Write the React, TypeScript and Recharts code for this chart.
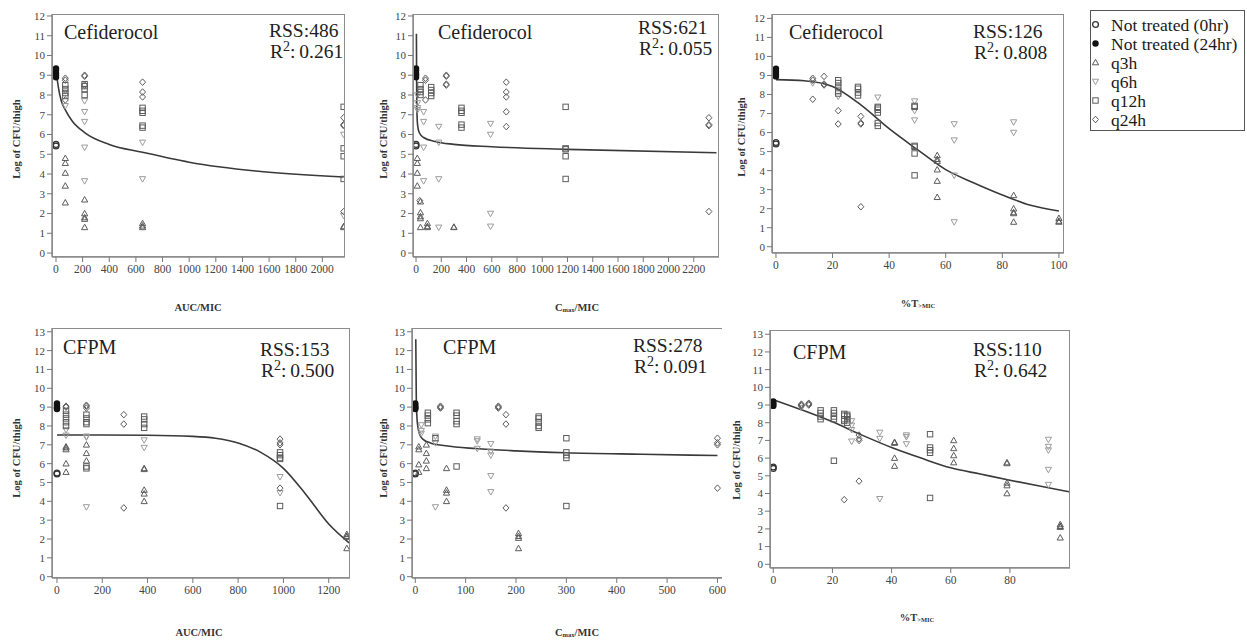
import React from 'react';
import { ComposedChart, Scatter, Line, XAxis, YAxis } from 'recharts';

const FONT = '"Liberation Serif", "Times New Roman", serif';

type Col = [number, number[]];
type Kind = 'nt0' | 'nt24' | 'q3h' | 'q6h' | 'q12h' | 'q24h';

const kinds: Kind[] = ['nt0', 'nt24', 'q3h', 'q6h', 'q12h', 'q24h'];
const legendLabels = ['Not treated (0hr)', 'Not treated (24hr)', 'q3h', 'q6h', 'q12h', 'q24h'];

// ---- Cefiderocol, AUC/MIC ----
const p1Nt0: Col[] = [[0, [5.5, 5.42]]];
const p1Nt24: Col[] = [[0, [9.35, 9.25, 9.1, 9.0, 8.9]]];
const p1Q3h: Col[] = [[70, [4.8, 4.55, 4.05, 3.4, 2.55]], [215, [2.7, 2.0, 1.8, 1.72, 1.3]], [650, [1.5, 1.38, 1.3]], [2160, [1.35, 1.3]]];
const p1Q6h: Col[] = [[70, [8.2, 7.45]], [215, [7.7, 7.15, 6.65, 5.35, 3.65]], [650, [5.6, 3.75]], [2160, [6.0, 1.9]]];
const p1Q12h: Col[] = [[70, [8.5, 8.3, 8.1, 7.95]], [215, [8.55, 8.45, 8.3, 8.0]], [650, [7.35, 7.2, 7.1, 6.45, 6.35]], [2160, [7.4, 5.3, 4.9, 3.75]]];
const p1Q24h: Col[] = [[70, [8.85, 8.75, 7.75]], [215, [9.0, 8.95, 8.5]], [650, [8.65, 8.15, 7.9]], [2160, [6.85, 6.5, 6.45, 2.1]]];
const p1Fit: [number, number][] = [[5, 9.0], [20, 8.3], [40, 7.7], [70, 7.25], [120, 6.7], [215, 6.1], [400, 5.5], [650, 5.1], [1000, 4.6], [1500, 4.15], [2160, 3.85]];

// ---- Cefiderocol, Cmax/MIC ----
const p2Nt0: Col[] = [[0, [5.5, 5.42]]];
const p2Nt24: Col[] = [[0, [9.35, 9.25, 9.1, 9.0, 8.9]]];
const p2Q3h: Col[] = [[10, [4.8, 4.55, 4.05, 3.4]], [35, [2.6, 2.05, 1.85, 1.75, 1.3]], [90, [1.5, 1.35, 1.3]], [300, [1.32, 1.3]]];
const p2Q6h: Col[] = [[12, [8.0, 7.6, 7.35, 7.25]], [60, [7.15, 6.65, 5.35, 3.65]], [180, [6.4, 5.6, 3.75, 1.3]], [590, [6.55, 6.0, 2.0, 1.35]]];
const p2Q12h: Col[] = [[35, [8.5, 8.3, 8.15, 8.0]], [120, [8.4, 8.25, 8.1, 7.95]], [360, [7.35, 7.2, 7.1, 6.5, 6.35]], [1185, [7.4, 5.3, 5.25, 4.9, 3.75]]];
const p2Q24h: Col[] = [[30, [2.65]], [75, [8.85, 8.75, 7.75]], [240, [9.0, 8.95, 8.55, 8.5]], [715, [8.65, 8.15, 7.9, 7.15, 6.4]], [2320, [6.85, 6.5, 6.45, 2.1]]];
const p2Fit: [number, number][] = [[3, 11.1], [5, 8.4], [8, 7.0], [12, 6.5], [25, 6.1], [60, 5.85], [150, 5.65], [300, 5.5], [600, 5.38], [1200, 5.25], [2380, 5.08]];

// ---- Cefiderocol, %T>MIC ----
const p3Nt0: Col[] = [[0, [5.48, 5.4]]];
const p3Nt24: Col[] = [[0, [9.35, 9.2, 9.05, 8.95]]];
const p3Q3h: Col[] = [[57, [4.8, 4.6, 4.5, 4.05, 3.45, 2.6]], [84, [2.7, 2.0, 1.8, 1.75, 1.3]], [100, [1.5, 1.35, 1.3]]];
const p3Q6h: Col[] = [[13, [8.6]], [22, [7.9]], [36, [7.85]], [49, [7.65, 7.15, 6.65]], [63, [6.45, 5.6, 3.75, 1.3]], [84, [6.55, 6.0]]];
const p3Q12h: Col[] = [[22, [8.75, 8.6, 8.4, 8.2, 8.05]], [29, [8.4, 8.3, 8.1, 7.95]], [36, [7.35, 7.3, 7.2, 7.05, 6.5, 6.35]], [49, [7.4, 7.35, 5.3, 5.25, 4.9, 3.75]]];
const p3Q24h: Col[] = [[13, [8.85, 8.75, 7.75]], [17, [8.95, 8.55, 8.5]], [22, [7.15, 6.45]], [30, [6.85, 6.5, 6.45, 2.1]]];
const p3Fit: [number, number][] = [[0, 8.78], [10, 8.72], [20, 8.42], [30, 7.45], [40, 6.2], [50, 5.1], [60, 4.05], [70, 3.35], [80, 2.72], [90, 2.18], [100, 1.88]];

// ---- CFPM, AUC/MIC ----
const p4Nt0: Col[] = [[0, [5.5, 5.45]]];
const p4Nt24: Col[] = [[0, [9.2, 9.1, 9.0, 8.95, 8.9]]];
const p4Q3h: Col[] = [[40, [6.9, 6.85, 6.75, 6.0, 5.55]], [130, [7.0, 6.55, 6.15]], [385, [5.75, 5.7, 4.6, 4.4, 4.0]], [1280, [2.25, 2.15, 2.1, 1.5]]];
const p4Q6h: Col[] = [[40, [7.8, 7.5]], [130, [7.45, 7.4, 3.7]], [385, [7.25, 6.85]], [985, [5.3, 4.45]]];
const p4Q12h: Col[] = [[40, [8.8, 8.6, 8.4, 8.2, 8.0]], [130, [8.6, 8.4, 8.2, 8.1, 5.85, 5.75]], [385, [8.5, 8.35, 8.1, 7.9]], [985, [6.6, 6.45, 6.3, 6.25, 3.75]]];
const p4Q24h: Col[] = [[40, [9.05, 9.0]], [130, [9.1, 9.05, 8.95]], [295, [8.6, 8.1, 3.65]], [985, [7.3, 7.1, 7.0, 4.7]]];
const p4Fit: [number, number][] = [[0, 7.52], [200, 7.52], [400, 7.51], [600, 7.45], [700, 7.35], [800, 7.1], [900, 6.6], [1000, 5.75], [1100, 4.35], [1200, 2.8], [1290, 1.8]];

// ---- CFPM, Cmax/MIC ----
const p5Nt0: Col[] = [[0, [5.5, 5.45]]];
const p5Nt24: Col[] = [[0, [9.2, 9.1, 9.0, 8.95, 8.9]]];
const p5Q3h: Col[] = [[7, [6.9, 6.75, 5.95, 5.55]], [22, [7.0, 6.55, 6.15, 5.75]], [62, [5.75, 4.6, 4.45, 4.0]], [205, [2.3, 2.15, 2.05, 1.5]]];
const p5Q6h: Col[] = [[12, [8.05, 7.75, 7.6]], [40, [7.45, 7.1, 3.7]], [123, [7.3, 7.2, 6.8]], [150, [7.05, 6.65, 6.45, 5.35, 4.5]]];
const p5Q12h: Col[] = [[25, [8.7, 8.55, 8.35, 8.15]], [40, [7.35]], [82, [8.7, 8.55, 8.25, 8.1, 5.85]], [245, [8.5, 8.4, 8.2, 8.0, 7.9]], [300, [7.35, 6.6, 6.45, 6.3, 3.75]]];
const p5Q24h: Col[] = [[50, [9.05, 9.0, 8.95]], [165, [9.05, 9.0, 8.95]], [180, [8.6, 8.1, 3.65]], [600, [7.35, 7.1, 7.0, 4.7]]];
const p5Fit: [number, number][] = [[1, 12.6], [2, 9.5], [4, 8.2], [8, 7.6], [15, 7.3], [30, 7.1], [60, 6.95], [120, 6.8], [200, 6.68], [300, 6.58], [450, 6.5], [600, 6.43]];

// ---- CFPM, %T>MIC ----
const p6Nt0: Col[] = [[0, [5.5, 5.42]]];
const p6Nt24: Col[] = [[0, [9.2, 9.1, 9.0, 8.95]]];
const p6Q3h: Col[] = [[41, [6.9, 6.85, 6.0, 5.55]], [61, [7.0, 6.55, 6.15, 5.75]], [79, [5.75, 5.7, 4.6, 4.45, 4.0]], [97, [2.25, 2.15, 2.1, 1.5]]];
const p6Q6h: Col[] = [[9.5, [8.85]], [26.5, [8.1, 7.85, 7.6, 6.95]], [36, [7.45, 7.1, 3.7]], [45, [7.3, 7.2, 6.8]], [93, [7.05, 6.65, 6.45, 5.35, 4.5]]];
const p6Q12h: Col[] = [[16, [8.7, 8.55, 8.35, 8.2]], [20.5, [8.7, 8.55, 8.35, 8.2, 5.85]], [24, [8.5, 8.4, 8.2, 8.1]], [25, [8.45, 8.35, 8.2, 8.0]], [53, [7.35, 6.6, 6.45, 6.3, 3.75]]];
const p6Q24h: Col[] = [[9.5, [9.05, 9.0, 8.95]], [12, [9.1, 9.05, 9.0]], [24, [3.65]], [29, [7.3, 7.1, 7.0, 4.7]]];
const p6Fit: [number, number][] = [[0, 9.3], [10, 8.7], [20, 8.05], [30, 7.3], [40, 6.6], [50, 6.0], [60, 5.45], [70, 5.1], [80, 4.75], [90, 4.42], [100, 4.1]];

const ticksAuc1 = [0, 200, 400, 600, 800, 1000, 1200, 1400, 1600, 1800, 2000];
const ticksCmax1 = [0, 200, 400, 600, 800, 1000, 1200, 1400, 1600, 1800, 2000, 2200];
const ticksT1 = [0, 20, 40, 60, 80, 100];
const ticksAuc2 = [0, 200, 400, 600, 800, 1000, 1200];
const ticksCmax2 = [0, 100, 200, 300, 400, 500, 600];
const ticksT2 = [0, 20, 40, 60, 80];
const yTicks12 = [0, 1, 2, 3, 4, 5, 6, 7, 8, 9, 10, 11, 12];
const yTicks13 = [0, 1, 2, 3, 4, 5, 6, 7, 8, 9, 10, 11, 12, 13];

const flat = (cols: Col[]) => cols.flatMap(([x, ys]) => ys.map((y) => ({ x, y })));
const pairs = (p: [number, number][]) => p.map(([x, y]) => ({ x, y }));

function Marker({ kind, cx, cy }: { kind: Kind; cx?: number; cy?: number }) {
  if (cx == null || cy == null) return <g />;
  const st = kind === 'q6h' ? '#9c9c9c' : '#5c5c5c';
  switch (kind) {
    case 'nt0':
      return <circle cx={cx} cy={cy} r={2.9} fill="none" stroke="#333" strokeWidth={1.3} />;
    case 'nt24':
      return <circle cx={cx} cy={cy} r={3.2} fill="#111" />;
    case 'q3h':
      return <path d={`M${cx},${cy - 3.2}L${cx + 3.1},${cy + 2.3}L${cx - 3.1},${cy + 2.3}Z`} fill="none" stroke={st} strokeWidth={1} />;
    case 'q6h':
      return <path d={`M${cx},${cy + 3.2}L${cx + 3.1},${cy - 2.3}L${cx - 3.1},${cy - 2.3}Z`} fill="none" stroke={st} strokeWidth={1} />;
    case 'q12h':
      return <rect x={cx - 2.7} y={cy - 2.7} width={5.4} height={5.4} fill="none" stroke={st} strokeWidth={1} />;
    default:
      return <path d={`M${cx},${cy - 3.3}L${cx + 3},${cy}L${cx},${cy + 3.3}L${cx - 3},${cy}Z`} fill="none" stroke={st} strokeWidth={1} />;
  }
}

interface PanelProps {
  frame: [number, number, number, number];
  xDomain: [number, number];
  yDomain: [number, number];
  xTicks: number[];
  yTicks: number[];
  series: Col[][];
  fit: [number, number][];
  noRight?: boolean;
}

function Panel({ frame, xDomain, yDomain, xTicks, yTicks, series, fit, noRight }: PanelProps) {
  const [fl, ft, fr, fb] = frame;
  const tickStyle = { fill: '#444', fontSize: 11.5, fontFamily: FONT };
  return (
    <>
      <div style={{ position: 'absolute', left: fl - 45, top: ft - 6 }}>
        <ComposedChart width={fr - fl + 51} height={fb - ft + 31} margin={{ top: 6, right: 6, left: 0, bottom: 0 }}>
          <XAxis type="number" dataKey="x" domain={xDomain} ticks={xTicks} interval={0} allowDataOverflow
            height={25} tickSize={5} tickMargin={3} tick={tickStyle}
            axisLine={{ stroke: '#8c8c8c', strokeWidth: 1.5 }} tickLine={{ stroke: '#777' }} />
          <YAxis type="number" dataKey="y" domain={yDomain} ticks={yTicks} interval={0} allowDataOverflow
            width={45} tickSize={5} tickMargin={2} tick={{ ...tickStyle, fontSize: 11 }}
            axisLine={{ stroke: '#8c8c8c', strokeWidth: 1.5 }} tickLine={{ stroke: '#777' }} />
          {series.map((cols, i) => (
            <Scatter key={kinds[i]} data={flat(cols)} isAnimationActive={false}
              shape={(p: any) => <Marker kind={kinds[i]} cx={p.cx} cy={p.cy} />} />
          ))}
          <Line data={pairs(fit)} dataKey="y" type="monotone" stroke="#3a3a3a" strokeWidth={1.6}
            dot={false} activeDot={false} isAnimationActive={false} />
        </ComposedChart>
      </div>
      <div style={{
        position: 'absolute', left: fl, top: ft, width: fr - fl, height: fb - ft, boxSizing: 'border-box',
        border: '1.5px solid #8c8c8c', borderRight: noRight ? 'none' : '1.5px solid #8c8c8c', pointerEvents: 'none',
      }} />
    </>
  );
}

function Txt({ x, y, size = 20, children }: { x: number; y: number; size?: number; children: React.ReactNode }) {
  return (
    <div style={{ position: 'absolute', left: x, top: y - size * 0.65, fontSize: size, lineHeight: `${size * 1.2}px`, fontFamily: FONT, color: '#222', whiteSpace: 'nowrap' }}>
      {children}
    </div>
  );
}

function Stats({ x, y, rss, r2 }: { x: number; y: number; rss: string; r2: string }) {
  return (
    <>
      <Txt x={x} y={y} size={19.5}>RSS:{rss}</Txt>
      <Txt x={x + 1} y={y + 21} size={19.5}>
        R<span style={{ fontSize: 14, position: 'relative', top: -7 }}>2</span>:&thinsp;{r2}
      </Txt>
    </>
  );
}

function YLabel({ x, y }: { x: number; y: number }) {
  return (
    <div style={{
      position: 'absolute', left: x - 70, top: y - 7, width: 140, height: 14, lineHeight: '14px', textAlign: 'center',
      transform: 'rotate(-90deg)', fontSize: 10.5, fontWeight: 'bold', fontFamily: FONT, color: '#333',
    }}>Log of CFU/thigh</div>
  );
}

function XLabel({ x, y, children }: { x: number; y: number; children: React.ReactNode }) {
  return (
    <div style={{
      position: 'absolute', left: x - 60, top: y - 7, width: 120, lineHeight: '14px', textAlign: 'center',
      fontSize: 10.5, fontWeight: 'bold', fontFamily: FONT, color: '#333',
    }}>{children}</div>
  );
}

const sub = { fontSize: 6.5, verticalAlign: 'baseline', position: 'relative' as const, top: 1 };

function LegendBox() {
  return (
    <div style={{ position: 'absolute', left: 1090, top: 10, width: 155, height: 121, boxSizing: 'border-box', border: '1.5px solid #555', fontFamily: FONT }}>
      {legendLabels.map((label, i) => (
        <div key={label} style={{ position: 'absolute', left: 0, top: 4 + i * 19, height: 19, width: 153 }}>
          <svg width={14} height={19} style={{ position: 'absolute', left: 0, top: 0 }}>
            <Marker kind={kinds[i]} cx={4.5} cy={9.5} />
          </svg>
          <span style={{ position: 'absolute', left: 20, top: -0.5, fontSize: 17.5, lineHeight: '20px', color: '#1a1a1a', whiteSpace: 'nowrap' }}>{label}</span>
        </div>
      ))}
    </div>
  );
}

export default function App() {
  return (
    <div style={{ position: 'absolute', left: 0, top: 0, width: 1247, height: 641, background: '#fff', overflow: 'hidden' }}>
      <Panel frame={[52, 14, 345, 257]} xDomain={[-30, 2170]} yDomain={[-0.2, 12.1]} xTicks={ticksAuc1} yTicks={yTicks12}
        series={[p1Nt0, p1Nt24, p1Q3h, p1Q6h, p1Q12h, p1Q24h]} fit={p1Fit} />
      <Panel frame={[413, 14, 719, 257]} xDomain={[-24, 2400]} yDomain={[-0.2, 12.1]} xTicks={ticksCmax1} yTicks={yTicks12}
        series={[p2Nt0, p2Nt24, p2Q3h, p2Q6h, p2Q12h, p2Q24h]} fit={p2Fit} />
      <Panel frame={[772, 14, 1064, 253]} xDomain={[-1.4, 101.8]} yDomain={[-0.33, 12.23]} xTicks={ticksT1} yTicks={yTicks12}
        series={[p3Nt0, p3Nt24, p3Q3h, p3Q6h, p3Q12h, p3Q24h]} fit={p3Fit} />
      <Panel frame={[52, 328, 350, 578]} xDomain={[-22, 1294]} yDomain={[-0.07, 13.2]} xTicks={ticksAuc2} yTicks={yTicks13}
        series={[p4Nt0, p4Nt24, p4Q3h, p4Q6h, p4Q12h, p4Q24h]} fit={p4Fit} />
      <Panel frame={[412, 328, 722, 578]} xDomain={[-6.5, 609]} yDomain={[-0.07, 13.2]} xTicks={ticksCmax2} yTicks={yTicks13}
        series={[p5Nt0, p5Nt24, p5Q3h, p5Q6h, p5Q12h, p5Q24h]} fit={p5Fit} noRight />
      <Panel frame={[770, 330, 1070, 568]} xDomain={[-1.1, 100.3]} yDomain={[-0.21, 13.24]} xTicks={ticksT2} yTicks={yTicks13}
        series={[p6Nt0, p6Nt24, p6Q3h, p6Q6h, p6Q12h, p6Q24h]} fit={p6Fit} />

      <Txt x={64} y={33}>Cefiderocol</Txt>
      <Stats x={269} y={32} rss="486" r2="0.261" />
      <Txt x={438} y={33}>Cefiderocol</Txt>
      <Stats x={638} y={29} rss="621" r2="0.055" />
      <Txt x={789} y={33}>Cefiderocol</Txt>
      <Stats x={973} y={33} rss="126" r2="0.808" />
      <Txt x={63} y={348}>CFPM</Txt>
      <Stats x={260} y={351} rss="153" r2="0.500" />
      <Txt x={443} y={348}>CFPM</Txt>
      <Stats x={633} y={347} rss="278" r2="0.091" />
      <Txt x={793} y={353}>CFPM</Txt>
      <Stats x={973} y={351} rss="110" r2="0.642" />

      <YLabel x={17} y={139} />
      <YLabel x={384} y={139} />
      <YLabel x={742} y={137} />
      <YLabel x={17} y={458} />
      <YLabel x={384} y={458} />
      <YLabel x={737} y={460} />

      <XLabel x={198} y={308}>AUC/MIC</XLabel>
      <XLabel x={577} y={308}>C<span style={sub}>max</span>/MIC</XLabel>
      <XLabel x={918} y={304}>%T<span style={sub}>&gt;MIC</span></XLabel>
      <XLabel x={199} y={633}>AUC/MIC</XLabel>
      <XLabel x={577} y={633}>C<span style={sub}>max</span>/MIC</XLabel>
      <XLabel x={917} y={618}>%T<span style={sub}>&gt;MIC</span></XLabel>

      <LegendBox />
    </div>
  );
}
